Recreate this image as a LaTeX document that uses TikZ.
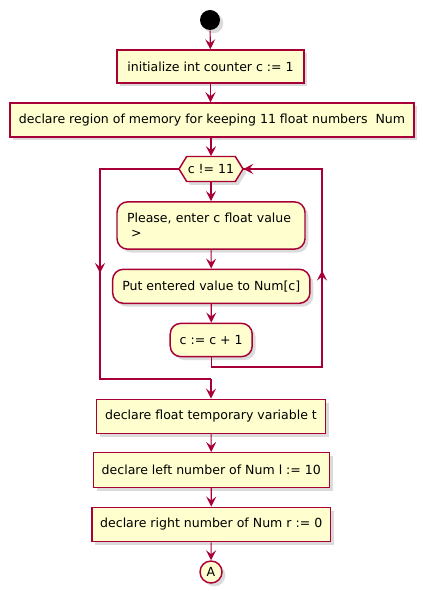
\documentclass[tikz,border=0pt]{standalone}
\usepackage{fontspec}
\setmainfont{DejaVu Sans}
\usetikzlibrary{arrows.meta,shadows,positioning}
\definecolor{pfill}{HTML}{FEFECE}
\definecolor{pline}{HTML}{A80036}
\begin{document}
\begin{tikzpicture}[x=0.75pt,y=-0.75pt,
  font=\fontsize{9.4}{11.5}\selectfont,
  shad/.style={drop shadow={shadow xshift=2.5pt,shadow yshift=-2.5pt,opacity=0.14,fill=black}},
  actbox/.style={draw=pline,fill=pfill,line width=1.1pt,shad,inner sep=0pt,align=center},
  roundbox/.style={actbox,rounded corners=8pt},
  flow/.style={draw=pline,line width=0.85pt,-{Stealth[length=7.5pt,width=7.5pt,inset=3pt]}},
  plain/.style={draw=pline,line width=0.85pt}]
\useasboundingbox (0,0) rectangle (422,591);
% start
\node[circle,fill=black,minimum size=15pt,inner sep=0pt,shad] (start) at (210,20) {};
\node[actbox,minimum width=140.25pt,minimum height=24.75pt] (b1) at (210.5,66.5) {initialize int counter c := 1};
\node[actbox,minimum width=303pt,minimum height=25.5pt] (b2) at (212,120) {declare region of memory for keeping 11 float numbers\ \ Num};
% hexagon
\path[draw=pline,fill=pfill,line width=1.1pt,shad] (179,169) -- (186.7,156.5) -- (235.3,156.5) -- (243,169) -- (235.3,181.5) -- (186.7,181.5) -- cycle;
\node[inner sep=0pt,minimum width=48pt,minimum height=18.75pt] (hex) at (211,169) {c != 11};
\node[roundbox,minimum width=141pt,minimum height=35.5pt,text width=126pt,inner xsep=7.5pt,align=left] (please) at (211,225.5) {Please, enter c float value\\\hspace*{3pt}>};
\node[roundbox,minimum width=148pt,minimum height=25.5pt] (put) at (211.3,286.3) {Put entered value to Num[c]};
\node[roundbox,minimum width=61.5pt,minimum height=25pt] (inc) at (211.2,340) {c := c + 1};
\node[actbox,minimum width=172pt,minimum height=25.5pt] (b3) at (211,416.3) {declare float temporary variable t};
\node[actbox,minimum width=177pt,minimum height=26pt] (b4) at (211.3,470) {declare left number of Num l := 10};
\node[actbox,minimum width=179pt,minimum height=25.8pt] (b5) at (211.2,524.5) {declare right number of Num r := 0};
\node[circle,draw=pline,fill=pfill,line width=1.1pt,shad,minimum size=16.5pt,inner sep=0pt] (A) at (211,572) {A};
% connectors
\draw[flow] (start) -- (b1);
\draw[flow] (b1) -- (b2.north -| b1);
\draw[flow] (b2.south -| hex) -- (hex.north);
\draw[flow] (hex) -- (please);
\draw[flow] (please) -- (put);
\draw[flow] (put) -- (inc);
\coordinate (rb) at (322,367);
\coordinate (rm) at (322,270.5);
\coordinate (rt) at (322,169);
\draw[plain] (inc.south) -- (inc.south |- rb) -- (rb) -- (rt) -- (hex.east);
\draw[flow] (rb) -- (rm);
\draw[flow] (rt) -- (hex.east);
\coordinate (lt) at (100,169);
\coordinate (lm) at (100,273);
\coordinate (lb) at (100,379);
\coordinate (lj) at (211,379);
\draw[plain] (hex.west) -- (lt) -- (lb) -- (lj);
\draw[flow] (lt) -- (lm);
\draw[flow] (lj) -- (b3);
\draw[flow] (b3) -- (b4);
\draw[flow] (b4) -- (b5);
\draw[flow] (b5) -- (A);
\end{tikzpicture}
\end{document}
